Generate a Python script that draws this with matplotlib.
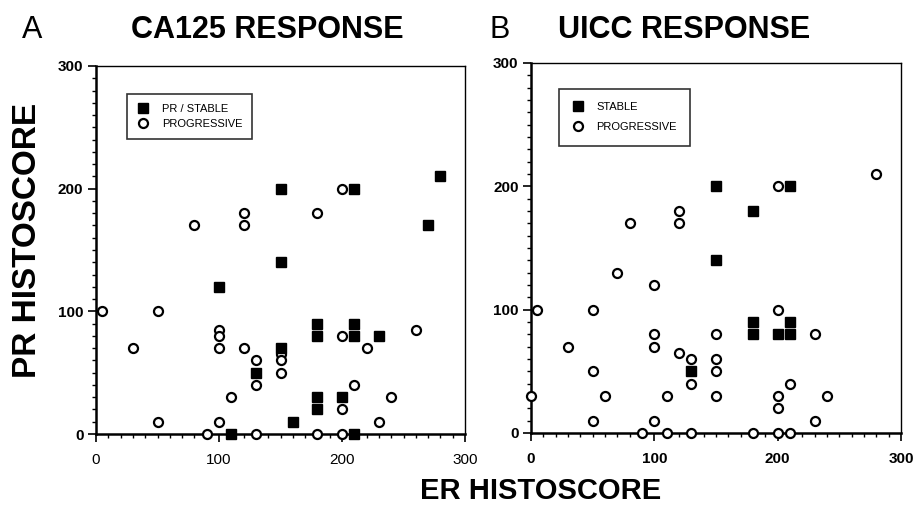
import matplotlib
matplotlib.use("Agg")
import matplotlib.pyplot as plt
from matplotlib.ticker import MultipleLocator

# Panel A: CA125 response
a_stable_er = [150, 210, 280, 270, 100, 150, 150, 180, 180, 210, 210, 230, 180, 180, 200, 160, 110, 210, 130]
a_stable_pr = [200, 200, 210, 170, 120, 140, 70, 90, 80, 90, 80, 80, 30, 20, 30, 10, 0, 0, 50]
a_prog_er = [5, 30, 50, 50, 80, 90, 100, 100, 100, 100, 110, 120, 120, 120, 130, 130, 130,
             150, 150, 150, 180, 180, 200, 200, 200, 200, 210, 220, 230, 240, 260]
a_prog_pr = [100, 70, 100, 10, 170, 0, 85, 80, 70, 10, 30, 180, 170, 70, 60, 40, 0,
             65, 60, 50, 180, 0, 200, 80, 20, 0, 40, 70, 10, 30, 85]

# Panel B: UICC response
b_stable_er = [150, 210, 180, 150, 180, 180, 210, 210, 200, 130]
b_stable_pr = [200, 200, 180, 140, 90, 80, 90, 80, 80, 50]
b_prog_er = [5, 0, 30, 50, 50, 60, 50, 70, 80, 100, 100, 100, 100, 90, 110, 110, 120, 120, 120,
             130, 130, 130, 150, 150, 150, 150, 180, 200, 200, 200, 200, 200, 210, 210, 230,
             240, 230, 280]
b_prog_pr = [100, 30, 70, 100, 50, 30, 10, 130, 170, 120, 80, 70, 10, 0, 30, 0, 180, 170, 65,
             60, 40, 0, 80, 60, 50, 30, 0, 200, 100, 30, 20, 0, 40, 0, 80,
             30, 10, 210]

panels = [
    ("A", "CA125 RESPONSE", "PR / STABLE", a_stable_er, a_stable_pr, a_prog_er, a_prog_pr),
    ("B", "UICC RESPONSE", "STABLE", b_stable_er, b_stable_pr, b_prog_er, b_prog_pr),
]

plt.rcParams["font.family"] = ["Liberation Sans", "DejaVu Sans"]

fig = plt.figure(figsize=(9.18, 5.09), dpi=100)
rects = [
    [96 / 918, 75 / 509, 369 / 918, 368 / 509],
    [531 / 918, 76 / 509, 370 / 918, 370 / 509],
]
legend_pos = [(0.07, 0.94), (0.06, 0.945)]
legend_space = [(0.9, 0.45), (1.2, 0.9)]
title_x = [(22, 131), (490, 558)]

for i, (letter, title, stable_label, s_er, s_pr, p_er, p_pr) in enumerate(panels):
    ax = fig.add_axes(rects[i])
    ax.plot(s_er, s_pr, "s", color="black", markersize=6.5, label=stable_label,
            clip_on=False, zorder=4)
    ax.plot(p_er, p_pr, "o", markerfacecolor="white", markeredgecolor="black",
            markeredgewidth=1.6, markersize=6.5, label="PROGRESSIVE", clip_on=False, zorder=3)
    ax.set_xlim(0, 300)
    ax.set_ylim(0, 300)
    ax.xaxis.set_major_locator(MultipleLocator(100))
    ax.xaxis.set_minor_locator(MultipleLocator(10))
    ax.yaxis.set_major_locator(MultipleLocator(100))
    ax.yaxis.set_minor_locator(MultipleLocator(10))
    ax.tick_params(which="major", direction="out", length=6, width=1.2, pad=8)
    ax.tick_params(which="minor", direction="out", length=3, width=1)
    ax.tick_params(axis="y", labelsize=11, pad=3)
    ax.tick_params(axis="x", labelsize=11)
    for lab in ax.get_yticklabels():
        lab.set_fontweight("bold")
    for lab in ax.get_xticklabels():
        lab.set_fontweight("normal" if i == 0 else "bold")
    for side in ["left", "bottom"]:
        ax.spines[side].set_linewidth(1.8)
    for side in ["top", "right"]:
        ax.spines[side].set_linewidth(1.0)

    leg = ax.legend(loc="upper left", bbox_to_anchor=legend_pos[i], fontsize=8,
                    frameon=True, fancybox=False, edgecolor="black", handletextpad=1.2,
                    borderpad=legend_space[i][0], labelspacing=legend_space[i][1],
                    handlelength=1.0)
    leg.get_frame().set_linewidth(1.2)

    fig.text(title_x[i][0] / 918, 1 - 30 / 509, letter, fontsize=22,
             ha="left", va="center")
    fig.text(title_x[i][1] / 918, 1 - 30 / 509, title, fontsize=22, fontweight="bold",
             ha="left", va="center")

fig.text(28 / 918, 1 - 240 / 509, "PR HISTOSCORE", fontsize=24, fontweight="bold",
         rotation=90, ha="center", va="center")
fig.text(541 / 918, 1 - 491 / 509, "ER HISTOSCORE", fontsize=21, fontweight="bold",
         ha="center", va="center")

fig.savefig("out.png", dpi=100)
